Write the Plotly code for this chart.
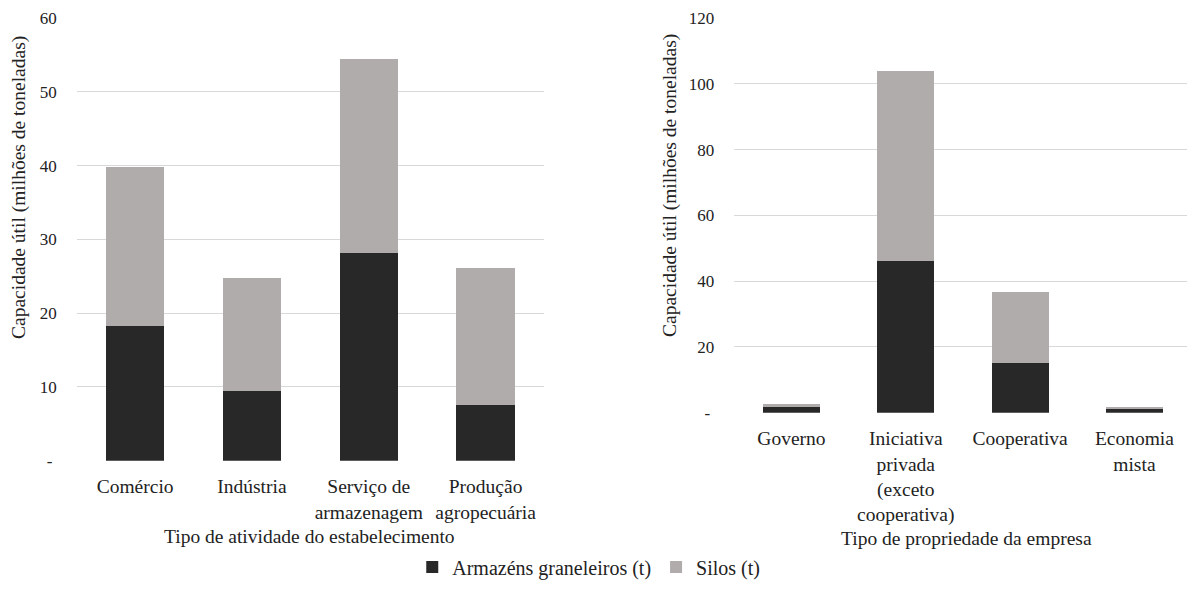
import plotly.graph_objects as go

# ---- data ----
cats_left = ["Comércio", "Indústria", "Serviço de<br>armazenagem", "Produção<br>agropecuária"]
armazens_left = [18.2, 9.4, 28.2, 7.5]
silos_left = [21.6, 15.4, 26.2, 18.6]

cats_right = ["Governo", "Iniciativa<br>privada<br>(exceto<br>cooperativa)", "Cooperativa", "Economia<br>mista"]
armazens_right = [1.8, 46.0, 15.0, 1.0]
silos_right = [0.8, 58.0, 21.7, 0.8]

left_ticks = [0, 10, 20, 30, 40, 50, 60]
left_ticktext = ["-\u00a0", "10", "20", "30", "40", "50", "60"]
right_ticks = [0, 20, 40, 60, 80, 100, 120]
right_ticktext = ["-\u00a0", "20", "40", "60", "80", "100", "120"]

series_names = ["Armazéns graneleiros (t)", "Silos (t)"]
y_title = "Capacidade útil (milhões de toneladas)"
x_title_left = "Tipo de atividade do estabelecimento"
x_title_right = "Tipo de propriedade da empresa"

DARK = "#282828"
GRAY = "#AFACAB"
GRID = "#D9D9D9"
TXT = "#222222"
FONT = "Liberation Serif"

W, H = 1187, 608


def px_x(p):
    return p / W


def px_y(p):
    return 1 - p / H


fig = go.Figure()
fig.add_trace(go.Bar(x=cats_left, y=armazens_left, name=series_names[0], marker_color=DARK,
                     xaxis="x", yaxis="y", legendgroup="a", marker_line_width=0))
fig.add_trace(go.Bar(x=cats_left, y=silos_left, name=series_names[1], marker_color=GRAY,
                     xaxis="x", yaxis="y", legendgroup="s", marker_line_width=0))
fig.add_trace(go.Bar(x=cats_right, y=armazens_right, name=series_names[0], marker_color=DARK,
                     xaxis="x2", yaxis="y2", legendgroup="a", showlegend=False, marker_line_width=0))
fig.add_trace(go.Bar(x=cats_right, y=silos_right, name=series_names[1], marker_color=GRAY,
                     xaxis="x2", yaxis="y2", legendgroup="s", showlegend=False, marker_line_width=0))

cat_font = dict(family=FONT, size=19.5, color=TXT)
tick_font = dict(family=FONT, size=17, color=TXT)
title_font = dict(family=FONT, size=19.5, color=TXT)

fig.update_layout(
    width=W, height=H,
    margin=dict(l=0, r=0, t=0, b=0),
    paper_bgcolor="white", plot_bgcolor="white",
    barmode="stack", bargap=0.5,
    font=dict(family=FONT, size=17, color=TXT),
    xaxis=dict(domain=[px_x(76.7), px_x(544)], anchor="y", showgrid=False, showline=False,
               tickfont=cat_font, ticks="", ticklabelstandoff=12, automargin=False,
               range=[-0.5, 3.5]),
    yaxis=dict(domain=[px_y(460.7), px_y(18)], anchor="x", range=[0, 60], tickvals=left_ticks,
               ticktext=left_ticktext, gridcolor=GRID, gridwidth=1, zeroline=False, showline=False,
               tickfont=tick_font, ticklabelstandoff=19, automargin=False),
    xaxis2=dict(domain=[px_x(734.3), 1.0], anchor="y2", showgrid=False, showline=False,
                tickfont=cat_font, ticks="", ticklabelstandoff=12, automargin=False,
                range=[-0.5, 3.46]),
    yaxis2=dict(domain=[px_y(412.7), px_y(18)], anchor="x2", range=[0, 120], tickvals=right_ticks,
                ticktext=right_ticktext, gridcolor=GRID, gridwidth=1, zeroline=False, showline=False,
                tickfont=tick_font, ticklabelstandoff=19, automargin=False),
    legend=dict(orientation="h", x=0.496, xanchor="center", y=px_y(567), yanchor="middle",
                font=dict(family=FONT, size=20, color=TXT), traceorder="normal"),
    annotations=[
        dict(text=y_title, textangle=-90, x=px_x(19), y=px_y(188), xanchor="center", yanchor="middle",
             xref="paper", yref="paper", showarrow=False, font=title_font),
        dict(text=y_title, textangle=-90, x=px_x(670), y=px_y(186), xanchor="center", yanchor="middle",
             xref="paper", yref="paper", showarrow=False, font=title_font),
        dict(text=x_title_left, x=px_x(310), y=px_y(536), xanchor="center", yanchor="middle",
             xref="paper", yref="paper", showarrow=False, font=title_font),
        dict(text=x_title_right, x=px_x(966), y=px_y(538), xanchor="center", yanchor="middle",
             xref="paper", yref="paper", showarrow=False, font=title_font),
    ],
)

fig.write_html("out.html")
